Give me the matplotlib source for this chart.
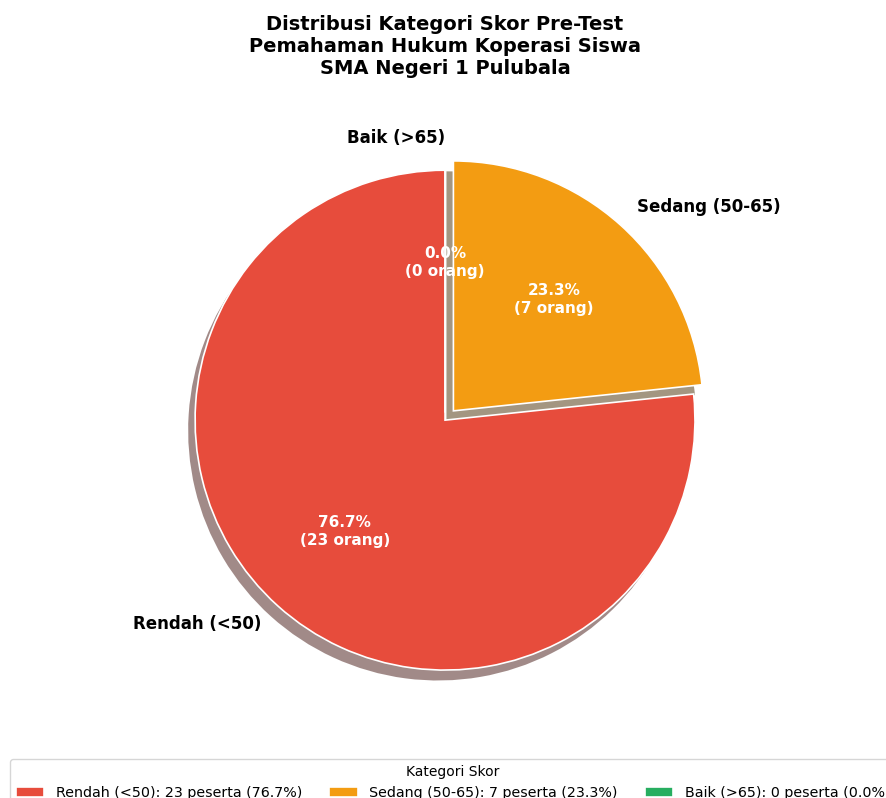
import matplotlib
matplotlib.use("Agg")
import matplotlib.pyplot as plt

kategori = ["Rendah (<50)", "Sedang (50-65)", "Baik (>65)"]
jumlah = [23, 7, 0]
warna = ["#e74c3c", "#f39c12", "#27ae60"]
explode = [0, 0.05, 0.03]

total = sum(jumlah)

def fmt(pct):
    n = int(round(pct * total / 100))
    return f"{pct:.1f}%\n({n} orang)"

fig = plt.figure(figsize=(8.86, 7.98), dpi=100)
ax = fig.add_axes([0.1496, 0.082, 0.7054, 0.783])

wedges, texts, autotexts = ax.pie(
    jumlah, labels=kategori, colors=warna, explode=explode,
    autopct=fmt, startangle=90,
    shadow=dict(ox=-0.02, oy=-0.03, edgecolor="none"),
    wedgeprops=dict(edgecolor="white", linewidth=1.2),
    textprops=dict(fontsize=12, fontweight="bold"))
for t in autotexts:
    t.set_color("white")
    t.set_fontsize(11)
    t.set_fontweight("bold")
ax.set_aspect("equal")

ax.set_title("Distribusi Kategori Skor Pre-Test\nPemahaman Hukum Koperasi Siswa\nSMA Negeri 1 Pulubala",
             fontsize=14, fontweight="bold", pad=24)

labels_leg = [f"{k}: {n} peserta ({n / total * 100:.1f}%)" for k, n in zip(kategori, jumlah)]
fig.legend(wedges, labels_leg, title="Kategori Skor", loc="upper left",
           bbox_to_anchor=(0.003, 0.058), ncol=3, fontsize=10.3, title_fontsize=10,
           columnspacing=1.9)

fig.savefig("out.png", dpi=100)
